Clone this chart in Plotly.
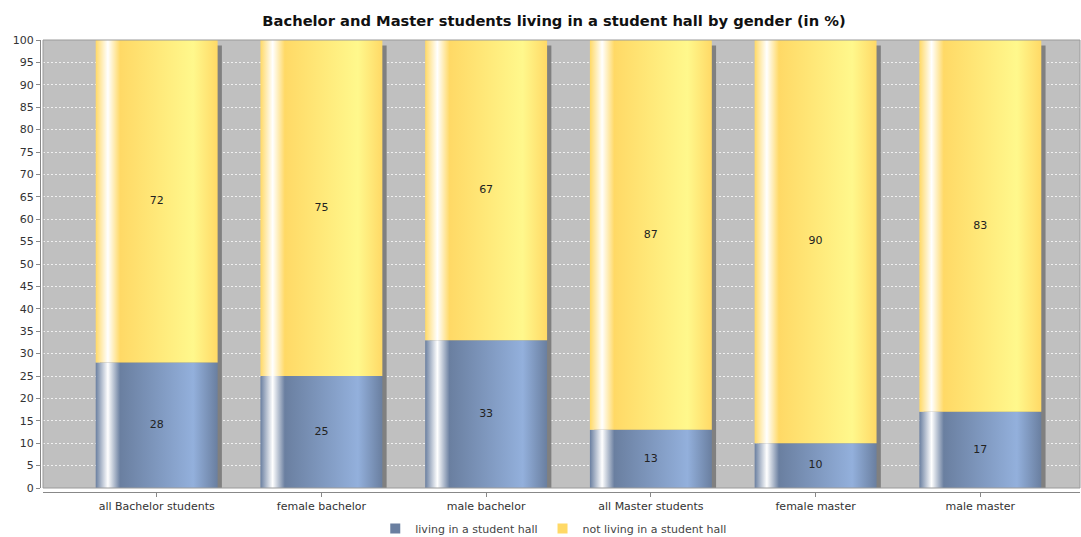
import plotly.graph_objects as go

categories = ["all Bachelor students", "female bachelor", "male bachelor",
              "all Master students", "female master", "male master"]
living = [28, 25, 33, 13, 10, 17]
not_living = [72, 75, 67, 87, 90, 83]
series_names = ["living in a student hall", "not living in a student hall"]

blue = "#6a7fa0"
blue_light = "#93b0dc"
yellow = "#ffd966"
yellow_light = "#fff88c"

bar_w = 0.74
shadow_dx = 0.026
shadow_dy = 1.2


def grad(c0, c1):
    # JFreeChart-like gradient painter: c0 -> white -> c0 -> c1 -> c0
    return [[0, c0], [0.1, "#ffffff"], [0.2, c0], [0.8, c1], [1, c0]]


fig = go.Figure()

# shadows
for i, (a, b) in enumerate(zip(living, not_living)):
    x0, x1 = i - bar_w / 2 + shadow_dx, i + bar_w / 2 + shadow_dx
    top = a + b - shadow_dy
    fig.add_trace(go.Scatter(
        x=[x0, x1, x1, x0, x0], y=[0, 0, top, top, 0],
        fill="toself", fillcolor="#808080", mode="lines",
        line=dict(width=0), showlegend=False, hoverinfo="skip"))

# stacked bar segments
for i, (a, b) in enumerate(zip(living, not_living)):
    x0, x1 = i - bar_w / 2, i + bar_w / 2
    for lo, hi, c0, c1, name in [(0, a, blue, blue_light, series_names[0]),
                                 (a, a + b, yellow, yellow_light, series_names[1])]:
        fig.add_trace(go.Scatter(
            x=[x0, x1, x1, x0, x0], y=[lo, lo, hi, hi, lo],
            fill="toself", mode="lines", line=dict(width=0),
            fillgradient=dict(type="horizontal", colorscale=grad(c0, c1)),
            name=name, showlegend=False,
            hovertemplate=f"{categories[i]}<br>{name}: {hi - lo}<extra></extra>"))

# value labels
fig.add_trace(go.Scatter(
    x=list(range(len(categories))), y=[v / 2 for v in living],
    mode="text", text=[str(v) for v in living],
    textfont=dict(size=11, color="#222222"), showlegend=False, hoverinfo="skip"))
fig.add_trace(go.Scatter(
    x=list(range(len(categories))), y=[a + b / 2 for a, b in zip(living, not_living)],
    mode="text", text=[str(v) for v in not_living],
    textfont=dict(size=11, color="#222222"), showlegend=False, hoverinfo="skip"))

# legend entries
for name, col in zip(series_names, [blue, yellow]):
    fig.add_trace(go.Scatter(
        x=[None], y=[None], mode="markers", name=name,
        marker=dict(symbol="square", size=10, color=col)))

fig.update_layout(
    width=1081, height=537,
    margin=dict(l=40, r=1, t=40, b=45),
    paper_bgcolor="white",
    plot_bgcolor="#c0c0c0",
    font=dict(family="DejaVu Sans", size=11, color="#444444"),
    title=dict(text="<b>Bachelor and Master students living in a student hall by gender (in %)</b>",
               x=0.5125, xanchor="center", y=0.962, yanchor="middle",
               font=dict(size=14.7, color="#111111")),
    legend=dict(orientation="h", x=0.494, xanchor="center",
                yref="container", y=0.016, yanchor="middle",
                font=dict(size=11, color="#444444"), itemwidth=30, tracegroupgap=0),
    showlegend=True,
)

fig.update_xaxes(
    domain=[3 / 1040, 1], range=[-0.69, 5.605],
    tickvals=list(range(len(categories))), ticktext=categories,
    showgrid=False, zeroline=False,
    showline=True, linecolor="#888888", linewidth=1,
    anchor="free", position=0,
    ticks="outside", ticklen=4, tickcolor="#888888",
    tickfont=dict(size=11, color="#333333"),
)
fig.update_yaxes(
    domain=[4 / 452, 1], range=[0, 100], dtick=5,
    showgrid=True, gridcolor="#f0f0f0", griddash="2px,2px", gridwidth=1,
    zeroline=False,
    showline=True, linecolor="#888888", linewidth=1,
    anchor="free", position=0,
    ticks="outside", ticklen=4, tickcolor="#888888",
    tickfont=dict(size=11, color="#333333"),
)

# plot outline
fig.add_shape(type="rect", xref="x domain", yref="y domain",
              x0=0, x1=1, y0=0, y1=1, line=dict(color="#9a9a9a", width=1), layer="above")

fig.write_html("out.html", config={"displayModeBar": False},
               post_script="document.body.style.margin='0';")
